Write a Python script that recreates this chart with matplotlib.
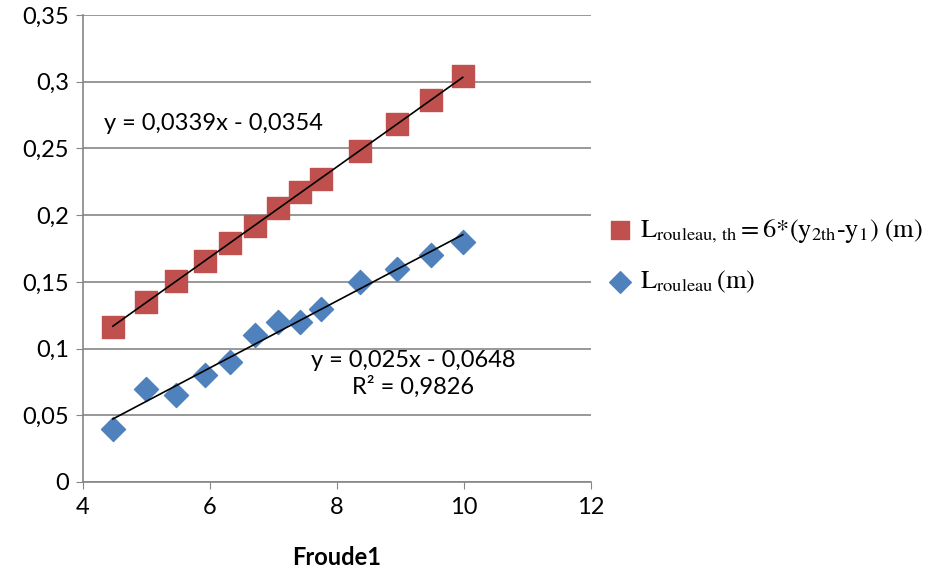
import numpy as np
import matplotlib.pyplot as plt
from matplotlib.ticker import FuncFormatter

plt.rcParams['font.family'] = ['Lato', 'DejaVu Sans']
plt.rcParams['mathtext.fontset'] = 'stix'

# data
froude = [4.47, 4.99, 5.46, 5.92, 6.31, 6.71, 7.07, 7.42, 7.75, 8.36, 8.94, 9.48, 9.98]
l_th = [0.116, 0.135, 0.151, 0.166, 0.179, 0.192, 0.205, 0.217, 0.227, 0.248, 0.268, 0.286, 0.304]
l_meas = [0.040, 0.070, 0.065, 0.080, 0.090, 0.110, 0.120, 0.120, 0.130, 0.150, 0.160, 0.170, 0.180]
y_ticks = [0, 0.05, 0.1, 0.15, 0.2, 0.25, 0.3, 0.35]
x_ticks = [4, 6, 8, 10, 12]

fig = plt.figure(figsize=(9.37, 5.68), dpi=100)
ax = fig.add_axes([83/937, 1-482/568, (591-83)/937, (482-15)/568])

ax.scatter(froude, l_th, marker='s', s=230, color='#c0504d', zorder=3,
           label=r'$\mathrm{L_{rouleau,\,th}=6{*}(y_{2th}\text{-}y_1)\ (m)}$')
ax.scatter(froude, l_meas, marker='D', s=150, color='#4f81bd', zorder=3,
           label=r'$\mathrm{L_{rouleau}\,(m)}$')

# linear trendlines
x = np.array(froude)
p1 = np.polyfit(x, l_th, 1)
p2 = np.polyfit(x, l_meas, 1)
ax.plot([x[0], x[-1]], np.polyval(p1, [x[0], x[-1]]), color='black', lw=1.2, zorder=4)
ax.plot([x[0], x[-1]], np.polyval(p2, [x[0], x[-1]]), color='black', lw=1.2, zorder=4)

ax.text(4.33, 0.269, 'y = 0,0339x - 0,0354', fontsize=17, va='center', ha='left')
ax.text(9.2, 0.081, 'y = 0,025x - 0,0648\nR² = 0,9826', fontsize=17,
        va='center', ha='center', multialignment='center', linespacing=1.25)

ax.set_xlim(4, 12)
ax.set_ylim(0, 0.35)
ax.set_xticks(x_ticks)
ax.set_yticks(y_ticks)
ax.yaxis.set_major_formatter(FuncFormatter(lambda v, p: ('%g' % round(v, 2)).replace('.', ',')))
ax.tick_params(labelsize=17, color='#868686', length=5)
ax.tick_params(axis='y', pad=5)
ax.tick_params(axis='x', pad=6)
ax.grid(axis='y', color='#868686', lw=1.2)
ax.set_axisbelow(True)
for s in ['top', 'right']:
    ax.spines[s].set_visible(False)
for s in ['left', 'bottom']:
    ax.spines[s].set_color('#868686')
    ax.spines[s].set_linewidth(1.2)

ax.set_xlabel('Froude1', fontsize=17, fontweight='bold', labelpad=20)

fig.legend(loc='center left', bbox_to_anchor=(608/937, 1-256/568), frameon=False,
           fontsize=19, handlelength=0.9, handletextpad=0.3, labelspacing=0.9,
           markerscale=0.9, borderpad=0, borderaxespad=0)

fig.savefig('out.png', dpi=100)
